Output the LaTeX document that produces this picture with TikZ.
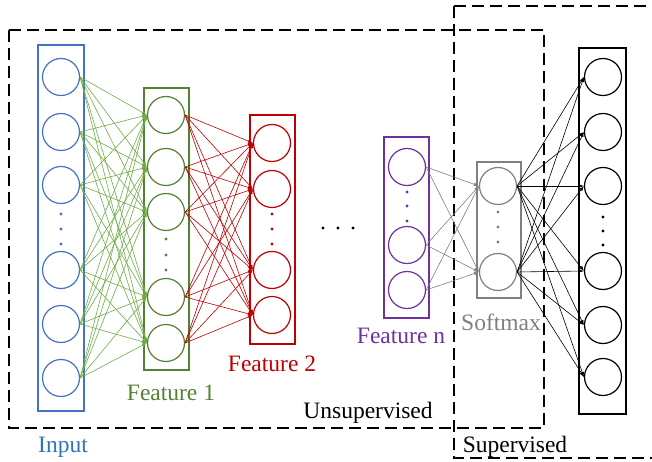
\documentclass[tikz,border=0pt]{standalone}
\usepackage{fontspec}
\setmainfont{Liberation Serif}
\usetikzlibrary{arrows.meta}
\definecolor{cblue}{HTML}{4472C4}
\definecolor{cbluet}{HTML}{2E75B6}
\definecolor{cgreen}{HTML}{548235}
\definecolor{cgreenl}{HTML}{70AD47}
\definecolor{cred}{HTML}{C00000}
\definecolor{cpurple}{HTML}{7030A0}
\definecolor{cgray}{HTML}{808080}
\begin{document}
\begin{tikzpicture}[x=1pt,y=-1pt,
  neuron/.style={circle,draw,line width=1.2pt,minimum size=37pt,inner sep=0pt},
  layerbox/.style={draw,line width=1.8pt},
  conn/.style={line width=0.6pt,-{Latex[length=5pt,width=3.5pt]}},
  dashbox/.style={draw=black,line width=1.6pt,dash pattern=on 12pt off 6pt},
  lbl/.style={anchor=base,inner sep=0pt,font=\fontsize{23.5}{28}\selectfont},
  dotc/.style={}]
\useasboundingbox (0,0) rectangle (652,462);
% dashed regions
\draw[dashbox] (9,30) rectangle (544,428);
\draw[dashbox] (454,6) -- (660,6);
\draw[dashbox] (454,6) -- (454,458) -- (660,458);
% layer boxes
\draw[layerbox,cblue] (38,45) rectangle (84,411);
\draw[layerbox,cgreen] (144,88) rectangle (189,370);
\draw[layerbox,cred] (250,115) rectangle (295,344);
\draw[layerbox,cpurple] (384,137) rectangle (429,318);
\draw[layerbox,cgray] (477,162) rectangle (521,298);
\draw[layerbox,black] (579,48) rectangle (626,414);
% neurons
\foreach \y [count=\i] in {77,132,185,270,324,378}
  \node[neuron,cblue] (i\i) at (61,\y) {};
\foreach \y [count=\i] in {115,167,212,297,343}
  \node[neuron,cgreen] (f\i) at (166,\y) {};
\foreach \y [count=\i] in {143,189,270,315}
  \node[neuron,cred] (g\i) at (272,\y) {};
\foreach \y [count=\i] in {167,245,290}
  \node[neuron,cpurple] (n\i) at (407,\y) {};
\foreach \y [count=\i] in {186,272}
  \node[neuron,cgray] (s\i) at (498,\y) {};
\foreach \y [count=\i] in {77,132,186,271,325,377}
  \node[neuron,black] (o\i) at (603,\y) {};
% dots
\foreach \y in {214,229,244} \fill[cblue] (61,\y) circle (1.6);
\foreach \y in {239,255,270} \fill[cgreen] (166,\y) circle (1.6);
\foreach \y in {214,229,244} \fill[cred] (272,\y) circle (1.6);
\foreach \y in {192,206,221} \fill[cpurple] (407,\y) circle (1.6);
\foreach \y in {212,227,242} \fill[cgray] (498,\y) circle (1.6);
\foreach \y in {217,231,245} \fill[black] (603,\y) circle (1.6);
\foreach \x in {323,338,353} \fill[black] (\x,228) circle (1.6);
% connections
\foreach \a in {1,...,6}
  \foreach \b in {1,...,5}
    \draw[conn,cgreenl] (i\a.east) -- (f\b.west);
\foreach \a in {1,...,5}
  \foreach \b in {1,...,4}
    \draw[conn,cred] (f\a.east) -- (g\b.west);
\foreach \a in {1,...,3}
  \foreach \b in {1,...,2}
    \draw[conn,cgray] (n\a.east) -- (s\b.west);
\foreach \a in {1,...,2}
  \foreach \b in {1,...,6}
    \draw[conn,black] (s\a.east) -- (o\b.west);
% labels
\node[lbl,text=cbluet] (lin) at (63,452) {Input};
\node[lbl,text=cgreen] (lf1) at (171,400) {Feature 1};
\node[lbl,text=cred] (lf2) at (272,371) {Feature 2};
\node[lbl,text=cpurple] (lfn) at (401,343) {Feature n};
\node[lbl,text=cgray] (lsm) at (501,330) {Softmax};
\node[lbl,text=black] (lun) at (368,418) {Unsupervised};
\node[lbl,text=black] (lsu) at (515,452) {Supervised};
\end{tikzpicture}
\end{document}
